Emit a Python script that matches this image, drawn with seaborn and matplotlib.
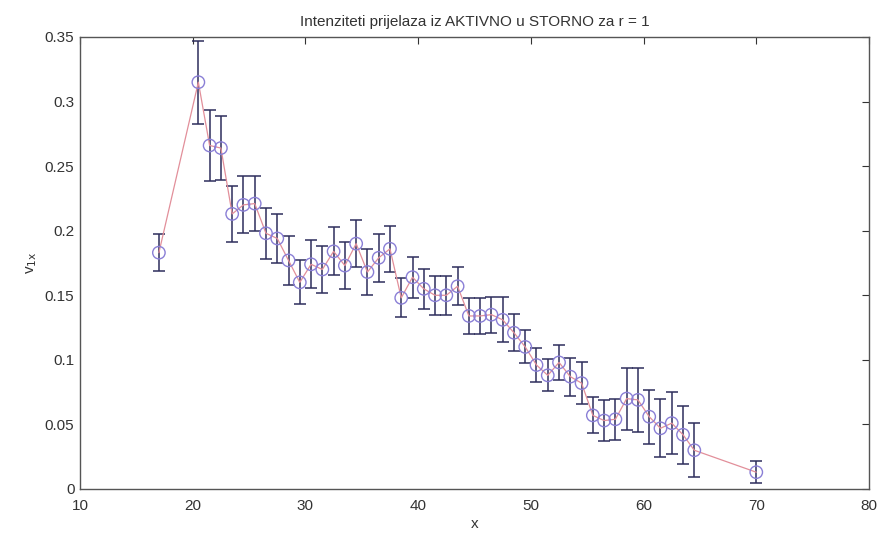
import numpy as np
import pandas as pd
import matplotlib
matplotlib.use("Agg")
import matplotlib.pyplot as plt
import seaborn as sns

# x positions of the points
x_vals = [17, 20.5, 21.5, 22.5, 23.5, 24.5, 25.5, 26.5, 27.5, 28.5,
          29.5, 30.5, 31.5, 32.5, 33.5, 34.5, 35.5, 36.5, 37.5, 38.5,
          39.5, 40.5, 41.5, 42.5, 43.5, 44.5, 45.5, 46.5, 47.5, 48.5,
          49.5, 50.5, 51.5, 52.5, 53.5, 54.5, 55.5, 56.5, 57.5, 58.5,
          59.5, 60.5, 61.5, 62.5, 63.5, 64.5, 70]
# estimated intensities
v_vals = [0.183, 0.315, 0.266, 0.264, 0.213, 0.220, 0.221, 0.198, 0.194, 0.177,
          0.160, 0.174, 0.170, 0.184, 0.173, 0.190, 0.168, 0.179, 0.186, 0.148,
          0.164, 0.155, 0.150, 0.150, 0.157, 0.134, 0.134, 0.135, 0.131, 0.121,
          0.110, 0.096, 0.088, 0.098, 0.087, 0.082, 0.057, 0.053, 0.054, 0.070,
          0.069, 0.056, 0.047, 0.051, 0.042, 0.030, 0.013]
# half-widths of the error bars
err_vals = [0.0145, 0.032, 0.0274, 0.025, 0.0215, 0.022, 0.021, 0.0197, 0.019, 0.0187,
            0.017, 0.0185, 0.018, 0.0185, 0.0185, 0.018, 0.018, 0.0186, 0.018, 0.015,
            0.016, 0.0155, 0.015, 0.015, 0.0146, 0.0142, 0.0142, 0.014, 0.0174, 0.0142,
            0.0128, 0.013, 0.0125, 0.0138, 0.0146, 0.016, 0.014, 0.016, 0.016, 0.024,
            0.025, 0.021, 0.0225, 0.024, 0.0225, 0.021, 0.0085]

x_ticks = [10, 20, 30, 40, 50, 60, 70, 80]
y_ticks = [0, 0.05, 0.1, 0.15, 0.2, 0.25, 0.3, 0.35]
y_tick_labels = ["0", "0.05", "0.1", "0.15", "0.2", "0.25", "0.3", "0.35"]
title = "Intenziteti prijelaza iz AKTIVNO u STORNO za r = 1"

df = pd.DataFrame({"x": x_vals, "v": v_vals, "err": err_vals})

sns.set_style("white")
plt.rcParams["font.family"] = ["Liberation Sans", "DejaVu Sans"]

fig = plt.figure(figsize=(8.77, 5.33), dpi=100)
ax = fig.add_axes([80 / 877, 1 - 489 / 533, 789 / 877, 452 / 533])

ax.errorbar(df["x"], df["v"], yerr=df["err"], fmt="none", ecolor="#2e2e5c",
            elinewidth=1.1, capsize=4, capthick=1.1, zorder=2)
sns.lineplot(data=df, x="x", y="v", ax=ax, color="#e28f9a", linewidth=0.9,
             zorder=3, sort=False)
sns.scatterplot(data=df, x="x", y="v", ax=ax, marker="o", s=80,
                facecolors="none", edgecolor="#8a7fd6", linewidth=1.0, zorder=4)

ax.set_xlim(10, 80)
ax.set_ylim(0, 0.35)
ax.set_xticks(x_ticks)
ax.set_yticks(y_ticks)
ax.set_yticklabels(y_tick_labels)
ax.tick_params(direction="in", length=5, width=0.8, top=True, right=True,
               labelsize=11, colors="#333333")
ax.tick_params(axis="x", pad=7)
ax.tick_params(axis="y", pad=4)
for sp in ax.spines.values():
    sp.set_color("#555555")
    sp.set_linewidth(1.0)

ax.set_xlabel("x", fontsize=11, color="#333333", labelpad=3)
ax.set_ylabel(r"v$_{\mathrm{1x}}$", fontsize=11, color="#333333", labelpad=4)
ax.set_title(title, fontsize=11, color="#333333", pad=8)

fig.savefig("out.png", dpi=100)
